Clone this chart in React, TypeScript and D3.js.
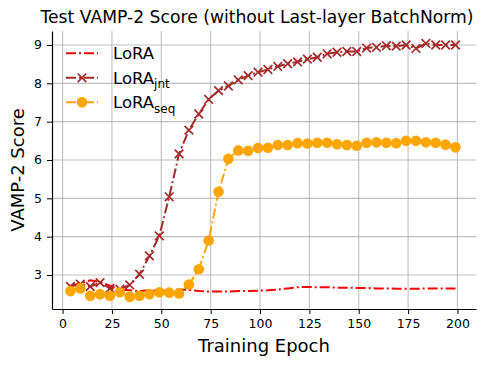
import React, { useEffect, useRef } from "react";
import * as d3 from "d3";

// evaluation epochs (every 5 epochs, starting at 4)
const epochs: number[] = d3.range(40).map((i) => 4 + 5 * i);

const loraValues = [
  2.72, 2.78, 2.86, 2.82, 2.72, 2.62, 2.6, 2.58, 2.6, 2.58,
  2.6, 2.62, 2.61, 2.58, 2.57, 2.57, 2.57, 2.58, 2.58, 2.59,
  2.6, 2.62, 2.65, 2.68, 2.69, 2.68, 2.68, 2.67, 2.67, 2.66,
  2.66, 2.65, 2.65, 2.64, 2.64, 2.64, 2.65, 2.65, 2.65, 2.65,
];

const jntValues = [
  2.7, 2.76, 2.7, 2.8, 2.65, 2.63, 2.74, 3.02, 3.5, 4.02,
  5.04, 6.16, 6.78, 7.2, 7.58, 7.81, 7.93, 8.09, 8.2, 8.29,
  8.36, 8.44, 8.51, 8.56, 8.63, 8.68, 8.77, 8.81, 8.83, 8.83,
  8.92, 8.94, 8.98, 8.97, 9.0, 8.91, 9.04, 9.0, 9.0, 9.0,
];

const seqValues = [
  2.58, 2.65, 2.46, 2.5, 2.46, 2.55, 2.43, 2.46, 2.5, 2.55,
  2.54, 2.52, 2.75, 3.15, 3.9, 5.17, 6.03, 6.25, 6.24, 6.31,
  6.32, 6.39, 6.39, 6.44, 6.43, 6.45, 6.45, 6.41, 6.39, 6.37,
  6.45, 6.46, 6.45, 6.44, 6.5, 6.5, 6.46, 6.45, 6.4, 6.33,
];

const xTicks = [0, 25, 50, 75, 100, 125, 150, 175, 200];
const yTicks = [3, 4, 5, 6, 7, 8, 9];

const title = "Test VAMP-2 Score (without Last-layer BatchNorm)";
const xLabel = "Training Epoch";
const yLabel = "VAMP-2 Score";

const App = () => {
  const svgRef = useRef<SVGSVGElement>(null);
  const width = 499;
  const height = 365;
  const margin = { top: 31, right: 23, bottom: 56, left: 52 };
  const font = "DejaVu Sans, sans-serif";

  useEffect(() => {
    const svg = d3.select(svgRef.current);
    svg.selectAll("*").remove();

    const x = d3.scaleLinear().domain([-5.35, 209.4]).range([margin.left, width - margin.right]);
    const y = d3.scaleLinear().domain([2.113, 9.365]).range([height - margin.bottom, margin.top]);

    const g = svg.append("g");

    // grid
    g.selectAll(".vgrid")
      .data(xTicks)
      .join("line")
      .attr("x1", (d) => x(d))
      .attr("x2", (d) => x(d))
      .attr("y1", margin.top)
      .attr("y2", height - margin.bottom)
      .attr("stroke", "#b0b0b0")
      .attr("stroke-opacity", 0.8)
      .attr("stroke-width", 1.1);
    g.selectAll(".hgrid")
      .data(yTicks)
      .join("line")
      .attr("x1", margin.left)
      .attr("x2", width - margin.right)
      .attr("y1", (d) => y(d))
      .attr("y2", (d) => y(d))
      .attr("stroke", "#b0b0b0")
      .attr("stroke-opacity", 0.8)
      .attr("stroke-width", 1.1);

    // axes
    const xAxis = g
      .append("g")
      .attr("transform", `translate(0,${height - margin.bottom})`)
      .call(d3.axisBottom(x).tickValues(xTicks).tickSize(5).tickPadding(5).tickSizeOuter(0));
    const yAxis = g
      .append("g")
      .attr("transform", `translate(${margin.left},0)`)
      .call(d3.axisLeft(y).tickValues(yTicks).tickSize(5).tickPadding(5).tickSizeOuter(0));
    [xAxis, yAxis].forEach((a) => {
      a.selectAll("text").attr("font-family", font).attr("font-size", 12.5).attr("fill", "#000");
      a.select(".domain").attr("stroke", "#000").attr("stroke-width", 1.2);
      a.selectAll(".tick line").attr("stroke", "#000").attr("stroke-width", 1);
    });

    const line = d3
      .line<number>()
      .x((_, i) => x(epochs[i]))
      .y((d) => y(d));

    const dash = "10 3 2 3";

    g.append("path")
      .datum(loraValues)
      .attr("d", line)
      .attr("fill", "none")
      .attr("stroke", "red")
      .attr("stroke-width", 2)
      .attr("stroke-dasharray", dash);

    g.append("path")
      .datum(jntValues)
      .attr("d", line)
      .attr("fill", "none")
      .attr("stroke", "brown")
      .attr("stroke-width", 2)
      .attr("stroke-dasharray", dash);

    const xMark = (sel: any, cx: number, cy: number, r: number) => {
      sel
        .append("path")
        .attr("d", `M${cx - r},${cy - r}L${cx + r},${cy + r}M${cx - r},${cy + r}L${cx + r},${cy - r}`)
        .attr("stroke", "brown")
        .attr("stroke-width", 1.7)
        .attr("fill", "none");
    };
    jntValues.forEach((v, i) => xMark(g, x(epochs[i]), y(v), 4.3));

    g.append("path")
      .datum(seqValues)
      .attr("d", line)
      .attr("fill", "none")
      .attr("stroke", "orange")
      .attr("stroke-width", 2)
      .attr("stroke-dasharray", dash);

    g.selectAll(".seqdot")
      .data(seqValues)
      .join("circle")
      .attr("cx", (_, i) => x(epochs[i]))
      .attr("cy", (d) => y(d))
      .attr("r", 5.3)
      .attr("fill", "orange");

    // legend
    const legend = [
      { label: "LoRA", sub: "", color: "red", marker: "none" },
      { label: "LoRA", sub: "jnt", color: "brown", marker: "x" },
      { label: "LoRA", sub: "seq", color: "orange", marker: "o" },
    ];
    legend.forEach((d, i) => {
      const ly = 53.3 + i * 24.5;
      const lg = g.append("g");
      lg.append("line")
        .attr("x1", 66)
        .attr("x2", 98)
        .attr("y1", ly)
        .attr("y2", ly)
        .attr("stroke", d.color)
        .attr("stroke-width", 2)
        .attr("stroke-dasharray", dash);
      if (d.marker === "x") xMark(lg, 82, ly, 4.3);
      if (d.marker === "o") lg.append("circle").attr("cx", 82).attr("cy", ly).attr("r", 5.3).attr("fill", d.color);
      const t = lg
        .append("text")
        .attr("x", 113)
        .attr("y", ly + 6)
        .attr("font-family", font)
        .attr("font-size", 16.5)
        .text(d.label);
      if (d.sub) {
        t.append("tspan").attr("font-size", 12).attr("dy", 4.5).text(d.sub);
      }
    });

    // title and labels
    svg.append("text")
      .attr("x", 257)
      .attr("y", 23)
      .attr("text-anchor", "middle")
      .attr("font-family", font)
      .attr("font-size", 17.2)
      .text(title);
    svg.append("text")
      .attr("x", (margin.left + width - margin.right) / 2)
      .attr("y", 352)
      .attr("text-anchor", "middle")
      .attr("font-family", font)
      .attr("font-size", 18)
      .text(xLabel);
    svg.append("text")
      .attr("transform", `translate(24,${(margin.top + height - margin.bottom) / 2}) rotate(-90)`)
      .attr("text-anchor", "middle")
      .attr("font-family", font)
      .attr("font-size", 18)
      .text(yLabel);
  }, []);

  return (
    <div style={{ position: "absolute", left: 0, top: 0 }}>
      <svg ref={svgRef} width={width} height={height} style={{ display: "block", background: "#fff" }} />
    </div>
  );
};

export default App;
